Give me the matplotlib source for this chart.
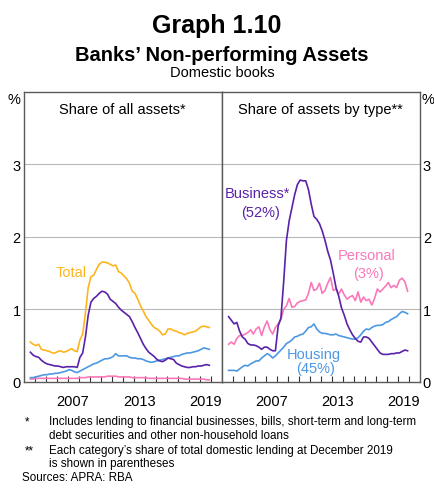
import numpy as np
import matplotlib
matplotlib.use("Agg")
import matplotlib.pyplot as plt
from matplotlib.ticker import FixedLocator, NullFormatter

plt.rcParams["font.family"] = ["Liberation Sans", "DejaVu Sans"]

# quarterly observations, Jun 2003 to Dec 2019 (decimal years)
dates = np.arange(2003.625, 2020.0, 0.25)

# left panel: share of all assets (%)
total_all = [0.55, 0.52, 0.50, 0.52, 0.45, 0.44, 0.43, 0.42, 0.40, 0.40,
             0.42, 0.43, 0.41, 0.42, 0.44, 0.46, 0.43, 0.42, 0.58, 0.66,
             0.95, 1.30, 1.45, 1.47, 1.55, 1.62, 1.65, 1.65, 1.64, 1.62,
             1.60, 1.61, 1.52, 1.50, 1.46, 1.42, 1.36, 1.25, 1.22, 1.14,
             1.05, 0.98, 0.90, 0.85, 0.79, 0.75, 0.73, 0.70, 0.65, 0.66,
             0.73, 0.73, 0.71, 0.70, 0.68, 0.67, 0.65, 0.67, 0.68, 0.69,
             0.70, 0.73, 0.76, 0.77, 0.76, 0.75]
business_all = [0.41, 0.37, 0.35, 0.34, 0.30, 0.27, 0.25, 0.24, 0.23, 0.22,
                0.22, 0.21, 0.20, 0.21, 0.21, 0.21, 0.21, 0.20, 0.34, 0.40,
                0.62, 0.92, 1.10, 1.15, 1.18, 1.22, 1.25, 1.24, 1.21, 1.14,
                1.11, 1.08, 1.03, 0.99, 0.96, 0.93, 0.90, 0.83, 0.75, 0.68,
                0.60, 0.52, 0.46, 0.41, 0.38, 0.35, 0.31, 0.29, 0.28, 0.30,
                0.33, 0.32, 0.31, 0.26, 0.24, 0.22, 0.21, 0.20, 0.20, 0.21,
                0.21, 0.22, 0.22, 0.23, 0.24, 0.23]
housing_all = [0.06, 0.06, 0.07, 0.08, 0.09, 0.10, 0.10, 0.11, 0.11, 0.12,
               0.12, 0.13, 0.14, 0.15, 0.17, 0.16, 0.14, 0.13, 0.15, 0.17,
               0.19, 0.21, 0.23, 0.25, 0.26, 0.28, 0.30, 0.32, 0.32, 0.33,
               0.35, 0.39, 0.36, 0.36, 0.36, 0.36, 0.34, 0.33, 0.33, 0.32,
               0.32, 0.31, 0.29, 0.28, 0.27, 0.28, 0.29, 0.30, 0.31, 0.32,
               0.33, 0.34, 0.35, 0.36, 0.36, 0.38, 0.39, 0.40, 0.40, 0.41,
               0.42, 0.43, 0.45, 0.47, 0.46, 0.45]
personal_all = [0.04, 0.04, 0.05, 0.05, 0.05, 0.05, 0.05, 0.05, 0.05, 0.05,
                0.05, 0.05, 0.05, 0.05, 0.05, 0.05, 0.05, 0.05, 0.06, 0.06,
                0.06, 0.07, 0.07, 0.07, 0.07, 0.07, 0.07, 0.07, 0.08, 0.08,
                0.08, 0.08, 0.07, 0.07, 0.07, 0.07, 0.07, 0.06, 0.06, 0.06,
                0.06, 0.06, 0.06, 0.05, 0.05, 0.05, 0.05, 0.05, 0.05, 0.05,
                0.05, 0.05, 0.05, 0.05, 0.05, 0.05, 0.04, 0.04, 0.04, 0.04,
                0.04, 0.04, 0.04, 0.04, 0.03, 0.03]

# right panel: share of assets by type (%)
business_type = [0.90, 0.85, 0.80, 0.82, 0.70, 0.62, 0.59, 0.53, 0.51, 0.51,
                 0.50, 0.48, 0.45, 0.48, 0.48, 0.45, 0.43, 0.43, 0.77, 0.88,
                 1.38, 1.95, 2.22, 2.40, 2.58, 2.72, 2.78, 2.77, 2.77, 2.65,
                 2.45, 2.28, 2.24, 2.18, 2.08, 1.95, 1.80, 1.68, 1.50, 1.30,
                 1.18, 1.02, 0.92, 0.80, 0.72, 0.65, 0.60, 0.56, 0.55, 0.62,
                 0.62, 0.60, 0.55, 0.50, 0.45, 0.40, 0.38, 0.38, 0.38, 0.39,
                 0.39, 0.40, 0.40, 0.42, 0.44, 0.43]
personal_type = [0.52, 0.55, 0.52, 0.60, 0.64, 0.64, 0.66, 0.68, 0.72, 0.66,
                 0.73, 0.76, 0.64, 0.76, 0.84, 0.72, 0.66, 0.75, 0.80, 0.86,
                 1.00, 1.05, 1.15, 1.03, 1.04, 1.09, 1.11, 1.12, 1.13, 1.22,
                 1.37, 1.26, 1.28, 1.36, 1.22, 1.26, 1.36, 1.44, 1.26, 1.28,
                 1.21, 1.28, 1.20, 1.14, 1.17, 1.19, 1.12, 1.24, 1.10, 1.17,
                 1.12, 1.14, 1.06, 1.15, 1.28, 1.24, 1.28, 1.32, 1.37, 1.30,
                 1.33, 1.30, 1.40, 1.43, 1.38, 1.25]
housing_type = [0.16, 0.16, 0.16, 0.15, 0.18, 0.21, 0.23, 0.22, 0.25, 0.27,
                0.29, 0.29, 0.33, 0.36, 0.39, 0.37, 0.33, 0.36, 0.40, 0.44,
                0.48, 0.53, 0.55, 0.58, 0.62, 0.63, 0.65, 0.66, 0.70, 0.75,
                0.76, 0.80, 0.73, 0.69, 0.67, 0.67, 0.66, 0.65, 0.65, 0.66,
                0.64, 0.63, 0.62, 0.61, 0.60, 0.59, 0.59, 0.61, 0.65, 0.70,
                0.73, 0.72, 0.75, 0.77, 0.78, 0.78, 0.79, 0.82, 0.83, 0.86,
                0.88, 0.90, 0.94, 0.97, 0.96, 0.94]

year_ticks = list(range(2004, 2021))
year_labels = ["2007", "2013", "2019"]
y_ticks = [0, 1, 2, 3]

ORANGE = "#FDB51E"
PURPLE = "#5A22A8"
BLUE = "#4D98E3"
PINK = "#FA78BA"
FRAME = "#5a5a5a"

W, H = 434, 489
fig = plt.figure(figsize=(W / 100, H / 100), dpi=100)


def px(x, y):
    return x / W, 1 - y / H


def setup_axis(ax, side):
    ax.set_xlim(2003, 2021)
    ax.set_ylim(0, 4)
    for s in ax.spines.values():
        s.set_color(FRAME)
        s.set_linewidth(1.0)
    ax.xaxis.set_major_locator(FixedLocator(year_ticks))
    ax.xaxis.set_major_formatter(NullFormatter())
    ax.xaxis.set_minor_locator(FixedLocator([int(y) + 0.5 for y in year_labels]))
    ax.set_xticklabels(year_labels, minor=True)
    ax.tick_params(axis="x", which="major", direction="in", length=4,
                   width=0.8, color="#333333")
    ax.tick_params(axis="x", which="minor", length=0, pad=8.5, labelsize=10.5)
    ax.set_yticks(y_ticks)
    ax.set_yticklabels([str(v) for v in y_ticks])
    ax.tick_params(axis="y", length=0, labelsize=10.5, pad=2,
                   left=(side == "left"), labelleft=(side == "left"),
                   right=(side == "right"), labelright=(side == "right"))
    for v in y_ticks[1:]:
        ax.axhline(v, color="#b8b8b8", lw=0.8, zorder=0)


x0, y_top, y_bot, xm, x1 = 23.5, 92.5, 383, 221.7, 420
axl = fig.add_axes([x0 / W, 1 - y_bot / H, (xm - x0) / W, (y_bot - y_top) / H])
axr = fig.add_axes([xm / W, 1 - y_bot / H, (x1 - xm) / W, (y_bot - y_top) / H])
setup_axis(axl, "left")
setup_axis(axr, "right")

lw = 1.2
axl.plot(dates, personal_all, color=PINK, lw=lw)
axl.plot(dates, housing_all, color=BLUE, lw=lw)
axl.plot(dates, business_all, color=PURPLE, lw=lw)
axl.plot(dates, total_all, color=ORANGE, lw=lw)

axr.plot(dates, housing_type, color=BLUE, lw=lw)
axr.plot(dates, personal_type, color=PINK, lw=lw)
axr.plot(dates, business_type, color=PURPLE, lw=lw)

# panel titles and series labels
axl.text(0.5, 0.965, "Share of all assets*", transform=axl.transAxes,
         ha="center", va="top", fontsize=10.5)
axr.text(0.5, 0.965, "Share of assets by type**", transform=axr.transAxes,
         ha="center", va="top", fontsize=10.5)

axl.text(2007.3, 1.52, "Total", color=ORANGE, ha="center", va="center", fontsize=10.5)
axr.text(2006.2, 2.60, "Business*", color=PURPLE, ha="center", va="center", fontsize=10.5)
axr.text(2006.5, 2.34, "(52%)", color=PURPLE, ha="center", va="center", fontsize=10.5)
axr.text(2016.2, 1.75, "Personal", color=PINK, ha="center", va="center", fontsize=10.5)
axr.text(2016.3, 1.50, "(3%)", color=PINK, ha="center", va="center", fontsize=10.5)
axr.text(2011.4, 0.38, "Housing", color=BLUE, ha="center", va="center", fontsize=10.5)
axr.text(2011.5, 0.19, "(45%)", color=BLUE, ha="center", va="center", fontsize=10.5)

# titles
fig.text(*px(217, 33), "Graph 1.10", ha="center", va="baseline",
         fontsize=18, fontweight="bold")
fig.text(*px(222, 61), "Banks\u2019 Non-performing Assets", ha="center",
         va="baseline", fontsize=14.5, fontweight="bold")
fig.text(*px(222, 77), "Domestic books", ha="center", va="baseline", fontsize=10.5)
fig.text(*px(14, 100), "%", ha="center", va="center", fontsize=10.5)
fig.text(*px(428, 100), "%", ha="center", va="center", fontsize=10.5)

# footnotes
fs = 8.4
fig.text(*px(25, 425), "*", ha="left", va="baseline", fontsize=fs)
fig.text(*px(49, 425), "Includes lending to financial businesses, bills, short-term and long-term",
         ha="left", va="baseline", fontsize=fs)
fig.text(*px(49, 439), "debt securities and other non-household loans",
         ha="left", va="baseline", fontsize=fs)
fig.text(*px(25, 454), "**", ha="left", va="baseline", fontsize=fs)
fig.text(*px(49, 454), "Each category\u2019s share of total domestic lending at December 2019",
         ha="left", va="baseline", fontsize=fs)
fig.text(*px(49, 467), "is shown in parentheses", ha="left", va="baseline", fontsize=fs)
fig.text(*px(22, 481), "Sources: APRA: RBA", ha="left", va="baseline", fontsize=fs)

fig.savefig("out.png", dpi=100)
